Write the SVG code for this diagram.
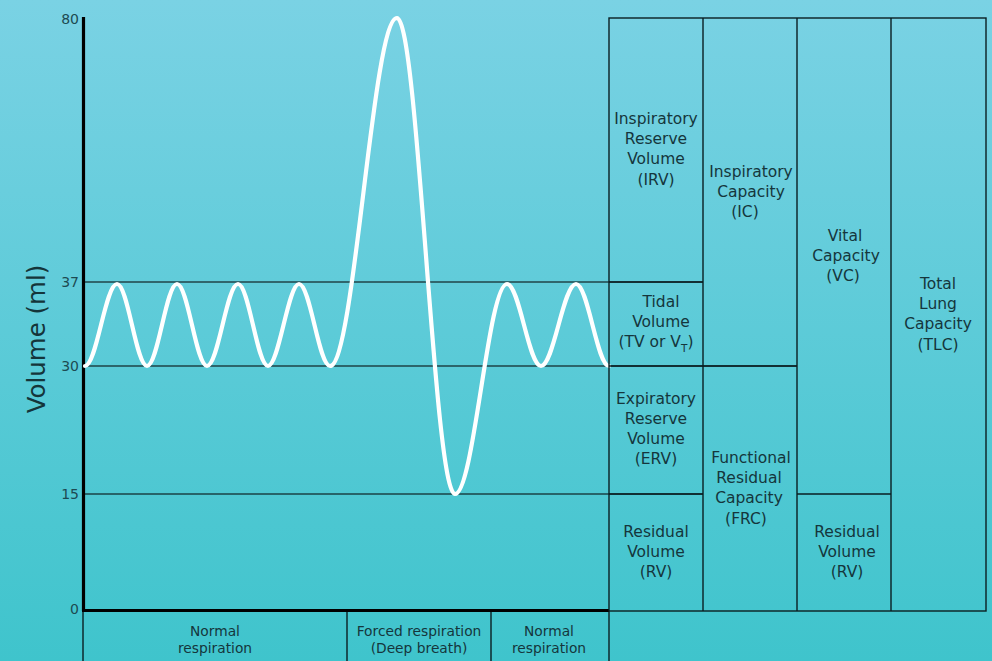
<svg xmlns="http://www.w3.org/2000/svg" width="992" height="661" viewBox="0 0 992 661">
<defs>
<linearGradient id="bg" x1="0" y1="0" x2="0" y2="1">
<stop offset="0" stop-color="#7AD2E4"/>
<stop offset="1" stop-color="#3FC4CC"/>
</linearGradient>
</defs>
<style>
.t{font-family:"DejaVu Sans","Open Sans",sans-serif;font-size:15.5px;fill:#15363c;text-anchor:middle}
.s{font-family:"DejaVu Sans","Open Sans",sans-serif;font-size:13.8px;fill:#15363c;text-anchor:middle}
.ax{font-family:"DejaVu Sans","Open Sans",sans-serif;font-size:14px;fill:#1d4a52;text-anchor:end}
.thin{stroke:#0a1e22;stroke-width:1.4;fill:none}
.grid{stroke:#000;stroke-width:1.1;fill:none}
.thick{stroke:#000;stroke-width:3.2;fill:none}
</style>
<rect width="992" height="661" fill="url(#bg)"/>
<g id="axes">
<line class="grid" x1="83" y1="282" x2="703" y2="282"/>
<line class="grid" x1="83" y1="366" x2="797" y2="366"/>
<line class="grid" x1="83" y1="494" x2="703" y2="494"/>
<line class="thin" x1="83" y1="611" x2="83" y2="661"/>
<line class="thin" x1="347" y1="611" x2="347" y2="661"/>
<line class="thin" x1="491" y1="611" x2="491" y2="661"/>
<line class="thin" x1="609" y1="611" x2="609" y2="661"/>
<line class="thick" x1="83.5" y1="17" x2="83.5" y2="611"/>
<line class="thick" x1="82" y1="610.5" x2="609" y2="610.5"/>
<text class="ax" x="79" y="24">80</text>
<text class="ax" x="79" y="287">37</text>
<text class="ax" x="79" y="371">30</text>
<text class="ax" x="79" y="499">15</text>
<text class="ax" x="79" y="614">0</text>
<text font-family="DejaVu Sans, Open Sans, sans-serif" font-size="24.5" fill="#14353a" text-anchor="middle" transform="translate(45,339) rotate(-90)">Volume (ml)</text>
</g>
<g id="connectors">
<path id="wave" fill="none" stroke="#fff" stroke-width="4.2" stroke-linecap="round" d="M85,366 C96.6,366 105.4,284 117,284 C127.9,284 136.1,366 147,366 C157.9,366 166.1,284 177,284 C187.9,284 196.1,366 207,366 C218.3,366 226.7,284 238,284 C248.9,284 257.1,366 268,366 C278.9,366 288.1,284 299,284 C310.3,284 318.7,366 330,366 C354.4,366 372.6,18 397,18 C418.1,18 433.9,494 455,494 C473.9,494 488.1,284 507,284 C519.4,284 528.6,366 541,366 C553.7,366 563.3,284 576,284 C588,284 597,366 609,366"/>
</g>
<g id="table">
<rect class="thin" x="609" y="18" width="377" height="593"/>
<line class="thin" x1="703" y1="18" x2="703" y2="611"/>
<line class="thin" x1="797" y1="18" x2="797" y2="611"/>
<line class="thin" x1="891" y1="18" x2="891" y2="611"/>
<line class="thin" x1="609" y1="282" x2="703" y2="282"/>
<line class="thin" x1="609" y1="366" x2="797" y2="366"/>
<line class="thin" x1="609" y1="494" x2="703" y2="494"/>
<line class="thin" x1="797" y1="494" x2="891" y2="494"/>
</g>
<g id="irv"><text class="t" x="656"><tspan x="656" y="124">Inspiratory</tspan><tspan x="656" y="144">Reserve</tspan><tspan x="656" y="164">Volume</tspan><tspan x="656" y="185">(IRV)</tspan></text></g>
<g id="tv"><text class="t" x="656"><tspan x="661" y="307">Tidal</tspan><tspan x="661" y="327">Volume</tspan><tspan x="656" y="347">(TV or V<tspan font-size="10.5" dy="5">T</tspan><tspan dy="-5">)</tspan></tspan></text></g>
<g id="erv"><text class="t" x="656"><tspan x="656" y="404">Expiratory</tspan><tspan x="656" y="424">Reserve</tspan><tspan x="656" y="444">Volume</tspan><tspan x="656" y="464">(ERV)</tspan></text></g>
<g id="rv1"><text class="t" x="656"><tspan x="656" y="537">Residual</tspan><tspan x="656" y="557">Volume</tspan><tspan x="656" y="577">(RV)</tspan></text></g>
<g id="ic"><text class="t" x="750"><tspan x="751" y="177">Inspiratory</tspan><tspan x="751" y="197">Capacity</tspan><tspan x="745" y="217">(IC)</tspan></text></g>
<g id="frc"><text class="t" x="750"><tspan x="751" y="463">Functional</tspan><tspan x="749" y="483">Residual</tspan><tspan x="749" y="503">Capacity</tspan><tspan x="746" y="524">(FRC)</tspan></text></g>
<g id="vc"><text class="t" x="844"><tspan x="845" y="241">Vital</tspan><tspan x="846" y="261">Capacity</tspan><tspan x="843" y="281">(VC)</tspan></text></g>
<g id="rv2"><text class="t" x="847"><tspan x="847" y="537">Residual</tspan><tspan x="847" y="557">Volume</tspan><tspan x="847" y="577">(RV)</tspan></text></g>
<g id="tlc"><text class="t" x="938"><tspan x="938" y="289">Total</tspan><tspan x="938" y="309">Lung</tspan><tspan x="938" y="329">Capacity</tspan><tspan x="938" y="350">(TLC)</tspan></text></g>
<g id="phase1"><text class="s"><tspan x="215" y="636">Normal</tspan><tspan x="215" y="653">respiration</tspan></text></g>
<g id="phase2"><text class="s"><tspan x="419" y="636">Forced respiration</tspan><tspan x="419" y="653">(Deep breath)</tspan></text></g>
<g id="phase3"><text class="s"><tspan x="549" y="636">Normal</tspan><tspan x="549" y="653">respiration</tspan></text></g>
</svg>
